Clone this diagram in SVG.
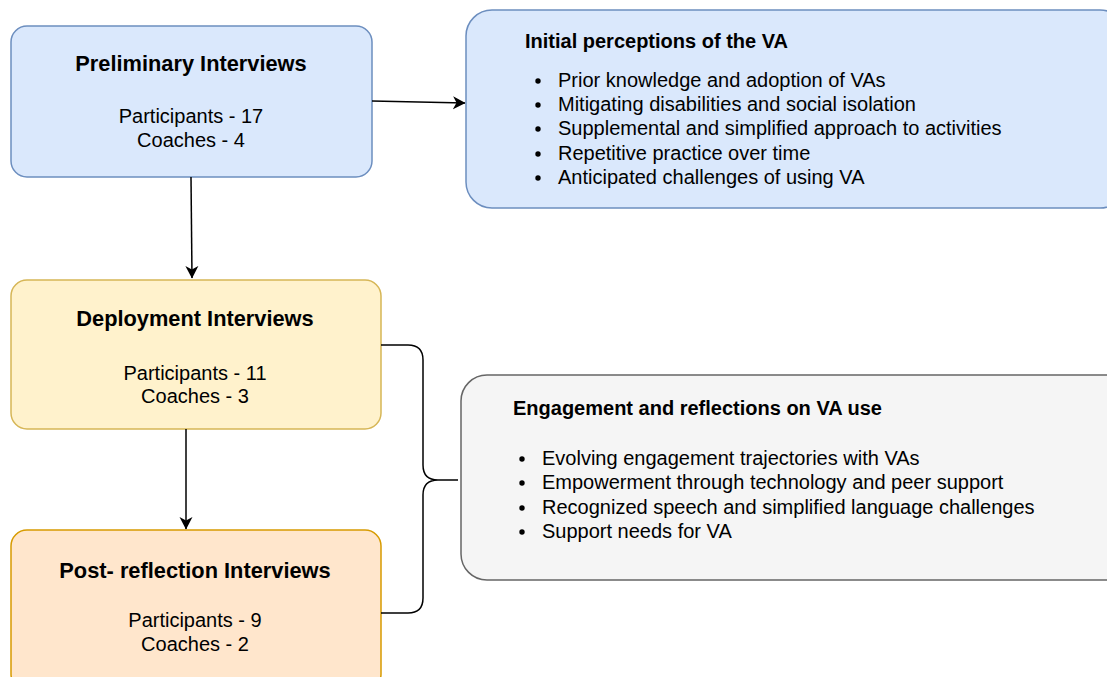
<svg xmlns="http://www.w3.org/2000/svg" width="1107" height="677" viewBox="0 0 1107 677">
<defs>
<style>
.t{font-family:"Liberation Sans",Arial,sans-serif;fill:#000}
.h{font-weight:bold;font-size:21.8px}
.b{font-size:20px}
.l{font-size:20px}
.lh{font-weight:bold;font-size:20px}
.c{fill:none;stroke:#000;stroke-width:1.5}
</style>
<marker id="ah" viewBox="0 0 13 14" refX="12" refY="7" markerWidth="13" markerHeight="14" markerUnits="userSpaceOnUse" orient="auto">
<path d="M0,0.5 L12.5,7 L0,13.5 L3.5,7 Z" fill="#000"/>
</marker>
</defs>
<rect width="1107" height="677" fill="#fff"/>
<g id="prelim">
<rect x="11" y="26" width="361" height="151" rx="16" fill="#dae8fc" stroke="#6c8ebf" stroke-width="1.5"/>
<text class="t h" x="191" y="71" text-anchor="middle">Preliminary Interviews</text>
<text class="t b" x="191" y="123" text-anchor="middle">Participants - 17</text>
<text class="t b" x="191" y="147" text-anchor="middle">Coaches - 4</text>
</g>
<g id="initial">
<rect x="466" y="10" width="660" height="198" rx="26" fill="#dae8fc" stroke="#6c8ebf" stroke-width="1.5"/>
<text class="t lh" x="525" y="48">Initial perceptions of the VA</text>
<g class="t l">
<circle cx="538" cy="81" r="2.7"/><text x="558" y="87">Prior knowledge and adoption of VAs</text>
<circle cx="538" cy="105" r="2.7"/><text x="558" y="111">Mitigating disabilities and social isolation</text>
<circle cx="538" cy="129" r="2.7"/><text x="558" y="135">Supplemental and simplified approach to activities</text>
<circle cx="538" cy="154" r="2.7"/><text x="558" y="160">Repetitive practice over time</text>
<circle cx="538" cy="178" r="2.7"/><text x="558" y="184">Anticipated challenges of using VA</text>
</g>
</g>
<g id="deploy">
<rect x="11" y="280" width="370" height="149" rx="16" fill="#fff2cc" stroke="#d6b656" stroke-width="1.5"/>
<text class="t h" x="195" y="326" text-anchor="middle">Deployment Interviews</text>
<text class="t b" x="195" y="380" text-anchor="middle">Participants - 11</text>
<text class="t b" x="195" y="403" text-anchor="middle">Coaches - 3</text>
</g>
<g id="post">
<rect x="11" y="530" width="370" height="160" rx="16" fill="#ffe6cc" stroke="#d79b00" stroke-width="1.5"/>
<text class="t h" x="195" y="578" text-anchor="middle">Post- reflection Interviews</text>
<text class="t b" x="195" y="627" text-anchor="middle">Participants - 9</text>
<text class="t b" x="195" y="651" text-anchor="middle">Coaches - 2</text>
</g>
<g id="engage">
<rect x="461" y="375" width="670" height="205" rx="26" fill="#f5f5f5" stroke="#666666" stroke-width="1.5"/>
<text class="t lh" x="513" y="415">Engagement and reflections on VA use</text>
<g class="t l">
<circle cx="522" cy="459" r="2.7"/><text x="542" y="465">Evolving engagement trajectories with VAs</text>
<circle cx="522" cy="483" r="2.7"/><text x="542" y="489">Empowerment through technology and peer support</text>
<circle cx="522" cy="508" r="2.7"/><text x="542" y="514">Recognized speech and simplified language challenges</text>
<circle cx="522" cy="532" r="2.7"/><text x="542" y="538">Support needs for VA</text>
</g>
</g>
<g id="connectors">
<path class="c" d="M372,101 L465,103" marker-end="url(#ah)"/>
<path class="c" d="M191,177 L192,278" marker-end="url(#ah)"/>
<path class="c" d="M186,429 L186,529" marker-end="url(#ah)"/>
<path class="c" d="M381,345 L408,345 Q423,345 423,360 L423,465 Q423,480 438,480 L458,480 M438,480 Q423,480 423,495 L423,598 Q423,613 408,613 L381,613"/>
</g>
</svg>
